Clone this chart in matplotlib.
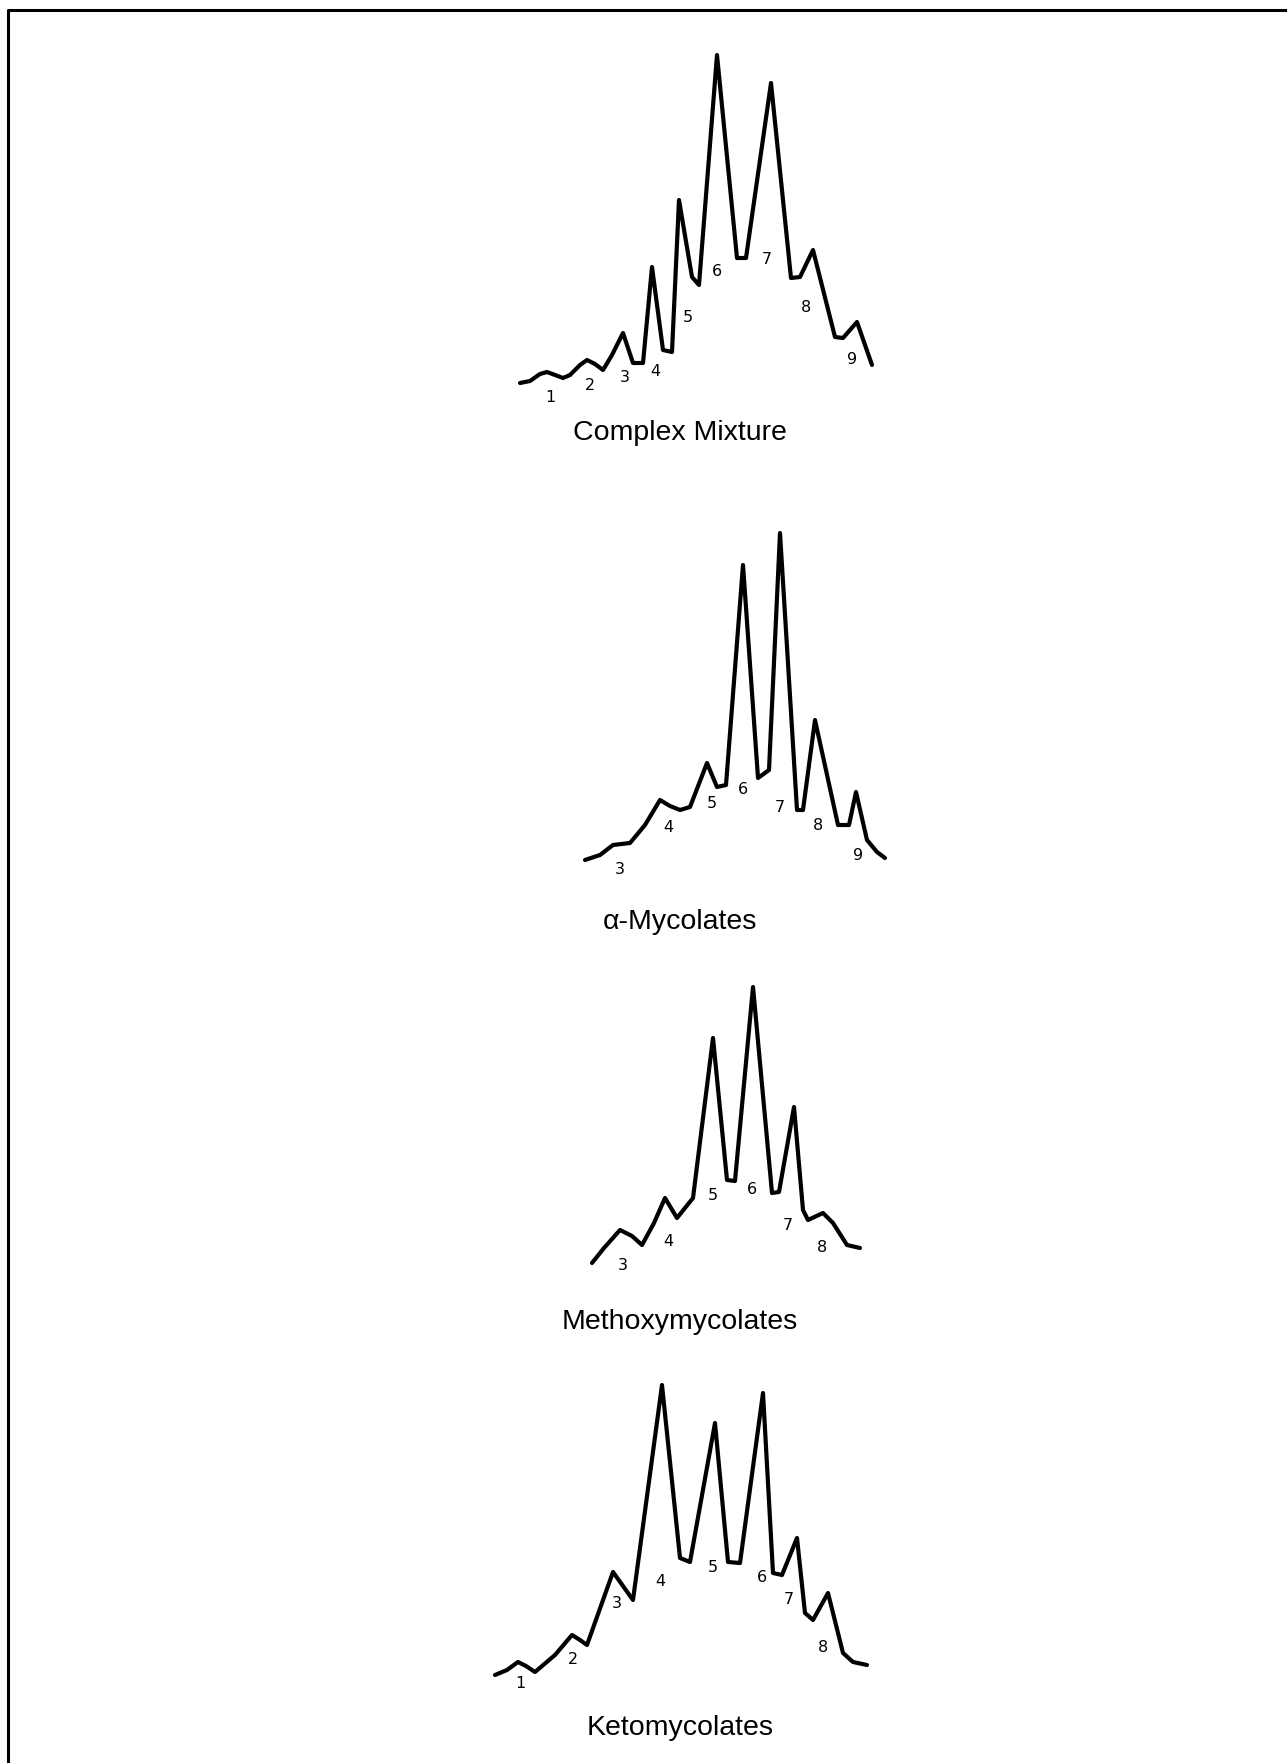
import matplotlib.pyplot as plt

# Chromatogram traces.
# t = distance along the trace (px), h = signal height above the panel baseline (px)
complex_t = [0, 10, 20, 27, 35, 43, 50, 60, 67, 75, 83, 92, 103, 113, 123, 132, 143, 152, 159,
             172, 179, 197, 217, 226, 251, 271, 280, 293, 315, 323, 337, 352]
complex_h = [0, 2, 9, 11, 8, 5, 8, 18, 23, 19, 13, 28, 50, 20, 20, 116, 33, 31, 183,
             106, 98, 328, 125, 125, 300, 105, 106, 133, 46, 45, 61, 18]
complex_peaks = ['1', '2', '3', '4', '5', '6', '7', '8', '9']

alpha_t = [0, 15, 28, 45, 60, 75, 85, 95, 105, 122, 132, 141, 158, 173, 184, 195,
           212, 218, 230, 253, 264, 271, 282, 292, 300]
alpha_h = [0, 5, 15, 17, 35, 60, 54, 50, 53, 97, 73, 75, 295, 82, 90, 327,
           50, 50, 140, 35, 35, 68, 20, 8, 2]
alpha_peaks = ['3', '4', '5', '6', '7', '8', '9']

methoxy_t = [0, 12, 28, 40, 50, 62, 73, 85, 101, 121, 135, 143, 161, 180, 187, 202,
             211, 216, 231, 241, 255, 268]
methoxy_h = [0, 15, 33, 27, 18, 40, 65, 45, 65, 225, 83, 82, 276, 70, 71, 156,
             53, 43, 50, 40, 18, 15]
methoxy_peaks = ['3', '4', '5', '6', '7', '8']

keto_t = [0, 12, 23, 31, 40, 60, 77, 85, 92, 118, 138, 167, 185, 195, 220, 233, 245,
          268, 278, 287, 302, 310, 318, 333, 348, 358, 372]
keto_h = [0, 5, 13, 9, 3, 20, 40, 35, 30, 103, 75, 290, 117, 113, 252, 113, 112,
          282, 102, 100, 137, 62, 55, 82, 22, 13, 10]
keto_peaks = ['1', '2', '3', '4', '5', '6', '7', '8']

# label offsets (t, h) for the peak numbers
complex_lab_t = [30, 70, 105, 135, 168, 197, 247, 286, 332]
complex_lab_h = [-15, -2, 5, 11, 65, 111, 123, 75, 23]
alpha_lab_t = [35, 83, 127, 158, 195, 233, 273]
alpha_lab_h = [-10, 32, 57, 70, 53, 35, 5]
methoxy_lab_t = [31, 76, 121, 160, 196, 230]
methoxy_lab_h = [-2, 21, 68, 73, 38, 15]
keto_lab_t = [25, 78, 122, 165, 218, 267, 294, 328]
keto_lab_h = [-8, 15, 72, 93, 107, 97, 75, 28]

titles = ['Complex Mixture', '\u03b1-Mycolates', 'Methoxymycolates', 'Ketomycolates']

W, H = 1287, 1763
fig = plt.figure(figsize=(W / 100, H / 100), dpi=100)
ax = fig.add_axes([0, 0, 1, 1])
ax.set_xlim(0, W)
ax.set_ylim(H, 0)
ax.axis('off')

# frame: only top and left edges show in the scan
ax.plot([8, 8, W], [H, 10, 10], color='black', lw=2.2, solid_capstyle='butt')

panels = [
    (complex_t, complex_h, complex_peaks, complex_lab_t, complex_lab_h, 520, 383, 433),
    (alpha_t, alpha_h, alpha_peaks, alpha_lab_t, alpha_lab_h, 585, 860, 922),
    (methoxy_t, methoxy_h, methoxy_peaks, methoxy_lab_t, methoxy_lab_h, 592, 1263, 1322),
    (keto_t, keto_h, keto_peaks, keto_lab_t, keto_lab_h, 495, 1675, 1728),
]

for (t, h, peaks, lt, lh, x0, base, ty), title in zip(panels, titles):
    xs = [x0 + v for v in t]
    ys = [base - v for v in h]
    ax.plot(xs, ys, color='black', lw=3, solid_joinstyle='round', solid_capstyle='round')
    for lab, a, b in zip(peaks, lt, lh):
        ax.text(x0 + a, base - b, lab, fontsize=11.5, ha='center', va='center',
                family='DejaVu Sans')
    ax.text(680, ty, title, fontsize=20.5, ha='center', va='center',
            family='Liberation Sans')

fig.savefig('out.png', dpi=100, facecolor='white')
